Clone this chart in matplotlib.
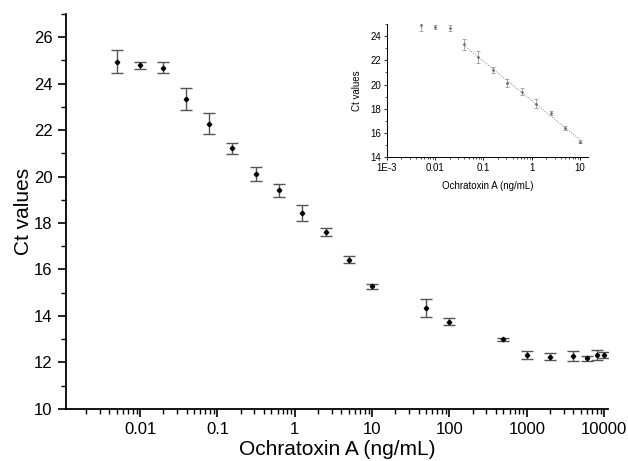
import numpy as np
import matplotlib.pyplot as plt
from matplotlib.ticker import FixedLocator, LogLocator, MultipleLocator, FuncFormatter, NullFormatter

plt.rcParams['font.family'] = ['Liberation Sans', 'DejaVu Sans']

# OTA concentration (ng/mL) and Ct values
conc = [0.005, 0.01, 0.02, 0.039, 0.078, 0.156, 0.3125, 0.625, 1.25, 2.5, 5, 10,
        50, 100, 500, 1000, 2000, 4000, 6000, 8000, 10000]
ct = [24.94, 24.78, 24.68, 23.33, 22.27, 21.22, 20.11, 19.40, 18.43, 17.62, 16.42, 15.27,
      14.34, 13.76, 13.00, 12.33, 12.25, 12.27, 12.18, 12.32, 12.31]
ct_err = [0.50, 0.16, 0.23, 0.46, 0.46, 0.23, 0.31, 0.28, 0.35, 0.17, 0.16, 0.12,
          0.37, 0.15, 0.07, 0.17, 0.15, 0.23, 0.10, 0.21, 0.12]

# linear range used in the inset
lin_lo, lin_hi = 3, 11

fig = plt.figure(figsize=(6.28, 4.61), dpi=100)
ax = fig.add_axes([0.105, 0.113, 0.863, 0.857])

ax.errorbar(conc, ct, yerr=ct_err, fmt='D', color='black', markersize=2.3,
            ecolor='#555555', elinewidth=1.0, capsize=4, capthick=1.0)

ax.set_xscale('log')
ax.set_xlim(0.0011, 11200)
ax.set_ylim(10, 27)
for s in ['top', 'right']:
    ax.spines[s].set_visible(False)
ax.spines['left'].set_linewidth(1.3)
ax.spines['bottom'].set_linewidth(1.3)

ax.xaxis.set_major_locator(FixedLocator([0.01, 0.1, 1, 10, 100, 1000, 10000]))
ax.xaxis.set_minor_locator(LogLocator(base=10, subs=np.arange(2, 10), numticks=20))
ax.xaxis.set_major_formatter(FuncFormatter(lambda v, p: '{:g}'.format(v)))
ax.xaxis.set_minor_formatter(NullFormatter())
ax.yaxis.set_major_locator(MultipleLocator(2))
ax.yaxis.set_minor_locator(MultipleLocator(1))
ax.tick_params(which='major', direction='out', length=6, width=1.2, labelsize=12)
ax.tick_params(which='minor', direction='out', length=3.5, width=1.0)
ax.set_xlabel('Ochratoxin A (ng/mL)', fontsize=15, labelpad=2)
ax.set_ylabel('Ct values', fontsize=15, labelpad=1)

# inset: linear range
ins = fig.add_axes([0.616, 0.659, 0.320, 0.289])
x_in = np.array(conc[:12])
y_in = np.array(ct[:12])
e_in = np.array(ct_err[:12])
ins.errorbar(x_in, y_in, yerr=e_in, fmt='o', color='#666666', markersize=0.9,
             ecolor='#888888', elinewidth=0.5, capsize=1.3, capthick=0.5)
xl = np.log10(np.array(conc[lin_lo:lin_hi + 1]))
k, b = np.polyfit(xl, np.array(ct[lin_lo:lin_hi + 1]), 1)
xf = np.array([conc[lin_lo], conc[lin_hi]])
ins.plot(xf, k * np.log10(xf) + b, linestyle=(0, (1, 1.5)), color='#888888', linewidth=0.7)

ins.set_xscale('log')
ins.set_xlim(0.001, 14.5)
ins.set_ylim(14, 25)
for s in ['top', 'right']:
    ins.spines[s].set_visible(False)
ins.spines['left'].set_linewidth(0.7)
ins.spines['bottom'].set_linewidth(0.7)
ins.xaxis.set_major_locator(FixedLocator([0.001, 0.01, 0.1, 1, 10]))
ins.xaxis.set_minor_locator(LogLocator(base=10, subs=np.arange(2, 10), numticks=20))
ins.xaxis.set_major_formatter(FuncFormatter(lambda v, p: '1E-3' if v < 0.005 else '{:g}'.format(v)))
ins.xaxis.set_minor_formatter(NullFormatter())
ins.yaxis.set_major_locator(MultipleLocator(2))
ins.yaxis.set_minor_locator(MultipleLocator(1))
ins.tick_params(which='major', direction='out', length=2.5, width=0.6, labelsize=7, pad=1.5)
ins.tick_params(which='minor', direction='out', length=1.5, width=0.5)
ins.set_xlabel('Ochratoxin A (ng/mL)', fontsize=7, labelpad=6)
ins.set_ylabel('Ct values', fontsize=7, labelpad=6)

fig.savefig('out.png', dpi=100)
